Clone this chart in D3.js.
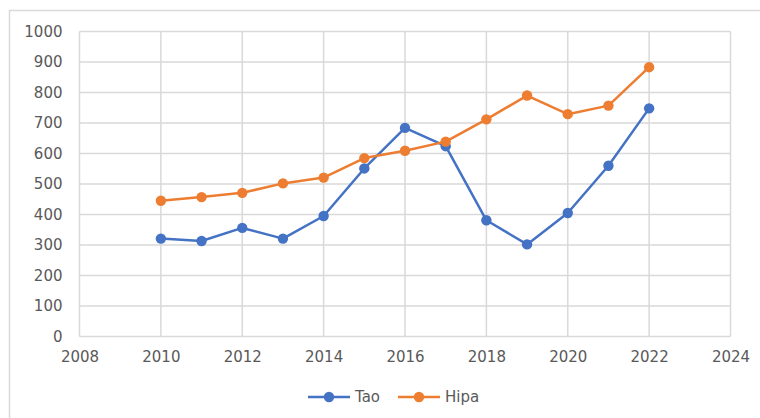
<!DOCTYPE html>
<html>
<head>
<meta charset="utf-8">
<script src="https://cdn.jsdelivr.net/npm/d3@7"></script>
<style>
  html, body { margin: 0; padding: 0; background: #fff; }
  svg { display: block; }
  text { font-family: "DejaVu Sans", sans-serif; fill: #595959; }
</style>
</head>
<body>
<svg id="chart" width="760" height="418"></svg>
<script>
// Yearly values for the two series
const years = [2010, 2011, 2012, 2013, 2014, 2015, 2016, 2017, 2018, 2019, 2020, 2021, 2022];
const taoValues  = [321, 313, 356, 321, 395, 551, 684, 624, 381, 302, 405, 560, 748];
const hipaValues = [445, 457, 471, 502, 521, 585, 609, 639, 712, 790, 729, 757, 883];
const seriesNames = ["Tao", "Hipa"];
const seriesColors = ["#4472C4", "#ED7D31"];
const xTicks = [2008, 2010, 2012, 2014, 2016, 2018, 2020, 2022, 2024];
const yTicks = [0, 100, 200, 300, 400, 500, 600, 700, 800, 900, 1000];

const svg = d3.select("#chart");
const W = 760, H = 418;
const plot = { left: 79.5, top: 31.5, right: 730.5, bottom: 336.5 };

// Chart frame
svg.append("path")
  .attr("d", `M9.5,${H} L9.5,10.5 L${W},10.5`)
  .attr("fill", "none")
  .attr("stroke", "#d9d9d9")
  .attr("stroke-width", 1.5);

const x = d3.scaleLinear().domain([2008, 2024]).range([plot.left, plot.right]);
const y = d3.scaleLinear().domain([0, 1000]).range([plot.bottom, plot.top]);

// Gridlines
const grid = svg.append("g").attr("stroke", "#d9d9d9").attr("stroke-width", 1.5);
grid.selectAll("line.h").data(yTicks).join("line")
  .attr("x1", plot.left).attr("x2", plot.right)
  .attr("y1", d => y(d)).attr("y2", d => y(d));
grid.selectAll("line.v").data(xTicks).join("line")
  .attr("y1", plot.top).attr("y2", plot.bottom)
  .attr("x1", d => x(d)).attr("x2", d => x(d));

// Axes (labels only; lines drawn by the grid)
const yAxis = svg.append("g")
  .attr("transform", `translate(${plot.left},0)`)
  .call(d3.axisLeft(y).tickValues(yTicks).tickSize(0).tickPadding(17).tickFormat(d3.format("d")));
yAxis.select(".domain").remove();
yAxis.selectAll("text").style("font-size", "15px").attr("fill", "#595959")
  .style("font-family", "DejaVu Sans, sans-serif");

const xAxis = svg.append("g")
  .attr("transform", `translate(0,${plot.bottom})`)
  .call(d3.axisBottom(x).tickValues(xTicks).tickSize(0).tickPadding(15).tickFormat(d3.format("d")));
xAxis.select(".domain").remove();
xAxis.selectAll("text").style("font-size", "15px").attr("fill", "#595959")
  .style("font-family", "DejaVu Sans, sans-serif");

// Series lines and markers
const series = [taoValues, hipaValues].map((vals, i) => ({
  name: seriesNames[i],
  color: seriesColors[i],
  points: years.map((yr, j) => ({ year: yr, value: vals[j] }))
}));

const line = d3.line().x(d => x(d.year)).y(d => y(d.value));

series.forEach(s => {
  const g = svg.append("g");
  g.append("path")
    .datum(s.points)
    .attr("d", line)
    .attr("fill", "none")
    .attr("stroke", s.color)
    .attr("stroke-width", 2.5)
    .attr("stroke-linejoin", "round");
  g.selectAll("circle").data(s.points).join("circle")
    .attr("cx", d => x(d.year))
    .attr("cy", d => y(d.value))
    .attr("r", 5.2)
    .attr("fill", s.color);
});

// Legend
const legendY = 397;
const legendItems = [
  { x0: 308, textX: 355 },
  { x0: 398, textX: 445 }
];
series.forEach((s, i) => {
  const li = legendItems[i];
  const g = svg.append("g");
  g.append("line")
    .attr("x1", li.x0).attr("x2", li.x0 + 42)
    .attr("y1", legendY).attr("y2", legendY)
    .attr("stroke", s.color).attr("stroke-width", 2.5);
  g.append("circle")
    .attr("cx", li.x0 + 21).attr("cy", legendY).attr("r", 5.2)
    .attr("fill", s.color);
  g.append("text")
    .attr("x", li.textX).attr("y", legendY)
    .attr("dy", "0.35em")
    .style("font-size", "15px")
    .text(s.name);
});
</script>
</body>
</html>
